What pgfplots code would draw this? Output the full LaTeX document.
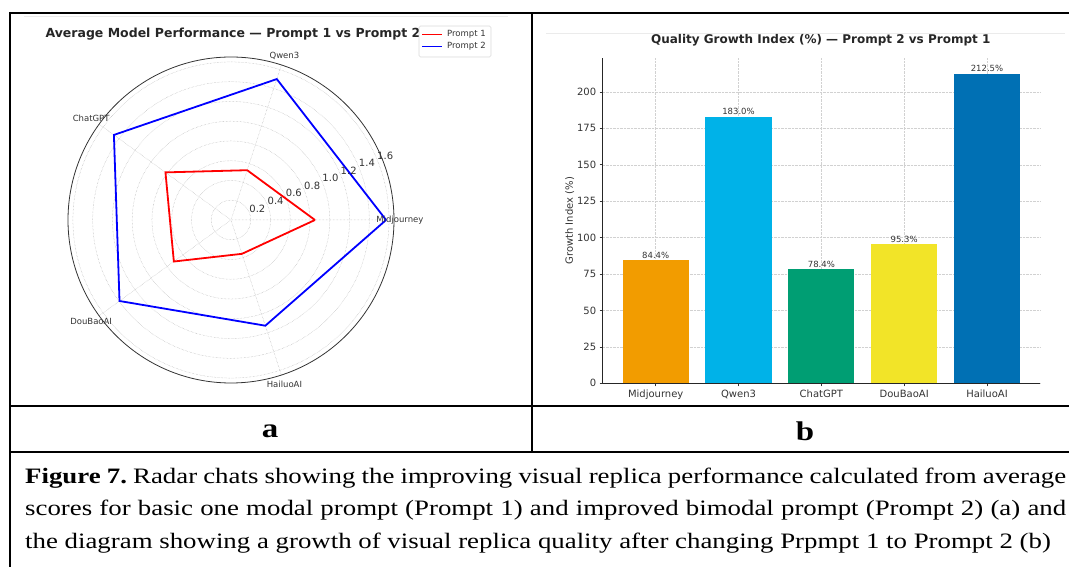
\documentclass[border=0pt]{standalone}
\usepackage{pgfplots}
\pgfplotsset{compat=1.18}
\usepgfplotslibrary{polar}
\usepackage{fontspec}
\setmainfont{DejaVu Sans}
\newfontfamily\capfont[FakeStretch=1.22]{Liberation Serif}
\definecolor{cOrange}{RGB}{242,156,0}
\definecolor{cSky}{RGB}{0,178,232}
\definecolor{cGreen}{RGB}{0,158,115}
\definecolor{cYellow}{RGB}{242,228,40}
\definecolor{cBlue}{RGB}{0,112,180}
\definecolor{txt}{RGB}{51,51,51}
\begin{document}
\frenchspacing
\begin{tikzpicture}[x=1pt,y=1pt,
  rlabel/.style={anchor=south west, inner sep=0pt, font=\fontsize{10}{12}\selectfont, text=txt},
  clabel/.style={font=\fontsize{8.5}{10}\selectfont, text=txt}]
\useasboundingbox (0,0) rectangle (1069,567);
% faint image edges
\draw[black!8, line width=0.8pt] (24,551) -- (508,551);
\draw[black!8, line width=0.8pt] (546,534) -- (1065,534);

% ---------------- radar chart (a) ----------------
\begin{polaraxis}[
  at={(231pt,347pt)}, anchor=origin,
  scale only axis, width=326pt, height=326pt,
  xmin=0, xmax=360, ymin=0, ymax=1.65,
  xtick={0,72,144,216,288},
  ytick={0.2,0.4,0.6,0.8,1.0,1.2,1.4,1.6},
  xticklabels={}, yticklabels={},
  major tick length=0pt,
  grid=major,
  major grid style={densely dotted, black!30, line width=0.5pt},
  axis line style={black!80, line width=0.8pt},
  y axis line style={draw=none},
  clip=false,
]
\addplot[red, line width=1.8pt] coordinates {(0,0.85) (72,0.53) (144,0.82) (216,0.715) (288,0.36) (360,0.85)};
\addplot[blue, line width=1.8pt] coordinates {(0,1.57) (72,1.50) (144,1.465) (216,1.395) (288,1.125) (360,1.57)};
\node[rlabel] at (axis cs:22.5,0.2) {0.2};
\node[rlabel] at (axis cs:22.5,0.4) {0.4};
\node[rlabel] at (axis cs:22.5,0.6) {0.6};
\node[rlabel] at (axis cs:22.5,0.8) {0.8};
\node[rlabel] at (axis cs:22.5,1.0) {1.0};
\node[rlabel] at (axis cs:22.5,1.2) {1.2};
\node[rlabel] at (axis cs:22.5,1.4) {1.4};
\node[rlabel] at (axis cs:22.5,1.6) {1.6};
\node[clabel] at (axis cs:0,1.71) {Midjourney};
\node[clabel] at (axis cs:72,1.75) {Qwen3};
\node[clabel] at (axis cs:144,1.75) {ChatGPT};
\node[clabel] at (axis cs:216,1.75) {DouBaoAI};
\node[clabel] at (axis cs:288,1.75) {HailuoAI};
\end{polaraxis}
\node[font=\bfseries\fontsize{12.5}{14}\selectfont, text=black!85] at (233,533) {Average Model Performance — Prompt 1 vs Prompt 2};
% legend
\draw[black!15, fill=white, rounded corners=1.5pt, line width=0.6pt] (419,510) rectangle (491,541);
\draw[red, line width=1.4pt] (422,532.7) -- (442,532.7);
\draw[blue, line width=1.4pt] (422,520.3) -- (442,520.3);
\node[anchor=west, inner sep=0pt, font=\fontsize{8.5}{10}\selectfont, text=txt] at (447,532.7) {Prompt 1};
\node[anchor=west, inner sep=0pt, font=\fontsize{8.5}{10}\selectfont, text=txt] at (447,520.3) {Prompt 2};

% ---------------- bar chart (b) ----------------
\begin{axis}[
  at={(602.7pt,183.7pt)}, anchor=south west,
  scale only axis, width=437.3pt, height=325pt,
  xmin=-0.64, xmax=4.64, ymin=0, ymax=223.1,
  axis x line*=bottom, axis y line*=left,
  xtick={0,1,2,3,4},
  xticklabels={Midjourney,Qwen3,ChatGPT,DouBaoAI,HailuoAI},
  ytick={0,25,50,75,100,125,150,175,200},
  tick align=outside, major tick length=3pt,
  tick style={black!80, line width=0.6pt},
  grid=major,
  major grid style={densely dotted, black!18, line width=0.5pt},
  axis line style={black!85, line width=0.8pt},
  ylabel={Growth Index (\%)},
  ylabel style={xshift=0pt, yshift=-4pt},
  ticklabel style={font=\fontsize{10}{12}\selectfont, text=txt},
  label style={font=\fontsize{10}{12}\selectfont, text=txt},
  /pgf/number format/assume math mode=true,
  ybar, bar width=0.8, bar shift=0pt,
  nodes near coords, point meta=explicit symbolic,
  nodes near coords style={font=\fontsize{8.5}{10}\selectfont, text=txt, anchor=south, inner sep=1.5pt},
]
\addplot[fill=cOrange, draw=none] coordinates {(0,84.4) [84.4\%]};
\addplot[fill=cSky, draw=none] coordinates {(1,183.0) [183.0\%]};
\addplot[fill=cGreen, draw=none] coordinates {(2,78.4) [78.4\%]};
\addplot[fill=cYellow, draw=none] coordinates {(3,95.3) [95.3\%]};
\addplot[fill=cBlue, draw=none] coordinates {(4,212.5) [212.5\%]};
\end{axis}
\node[font=\bfseries\fontsize{12}{14}\selectfont, text=black!85] at (820.7,526.3) {Quality Growth Index (\%) — Prompt 2 vs Prompt 1};

% ---------------- table frame ----------------
\draw[black, line width=2.2pt] (9,554) -- (1069,554);
\draw[black, line width=2.2pt] (10,555.1) -- (10,0);
\draw[black, line width=2.2pt] (532.3,554) -- (532.3,114.7);
\draw[black, line width=2.2pt] (9,161.3) -- (1069,161.3);
\draw[black, line width=2.2pt] (9,114.7) -- (1069,114.7);
\node[font=\capfont\bfseries\fontsize{27}{30}\selectfont] at (270,136) {a};
\node[font=\capfont\bfseries\fontsize{27}{30}\selectfont] at (805,136) {b};

% ---------------- caption ----------------
\node[anchor=base west, inner sep=0pt] at (25,83.7) {\capfont\fontsize{22}{26}\selectfont\makebox[1041pt][s]{\textbf{Figure 7.} Radar chats showing the improving visual replica performance calculated from average}};
\node[anchor=base west, inner sep=0pt] at (25,51.3) {\capfont\fontsize{22}{26}\selectfont\makebox[1041pt][s]{scores for basic one modal prompt (Prompt 1) and improved bimodal prompt (Prompt 2) (a) and}};
\node[anchor=base west, inner sep=0pt] at (25,18.7) {\capfont\fontsize{22}{26}\selectfont the diagram showing a growth of visual replica quality after changing Prpmpt 1 to Prompt 2 (b)};
\end{tikzpicture}
\end{document}
